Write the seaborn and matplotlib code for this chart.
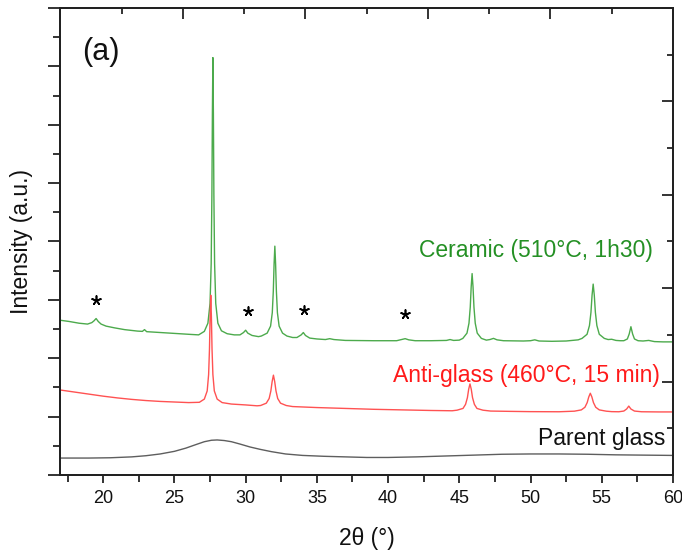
import matplotlib
matplotlib.use("Agg")
import matplotlib.pyplot as plt
import pandas as pd
import seaborn as sns
from matplotlib.ticker import MultipleLocator

sns.set_theme(style="ticks")
plt.rcParams["font.family"] = ["Liberation Sans", "DejaVu Sans"]

# ---- XRD patterns (2θ in degrees, stacked intensity in arbitrary units) ----
ceramic_2theta = [17.0, 17.6, 18.3, 18.9, 19.2, 19.35, 19.5, 19.65, 19.85, 20.2, 20.8, 21.5,
                  22.4, 22.75, 22.9, 23.05, 24.0, 25.0, 26.0, 26.7,
                  27.1, 27.35, 27.5, 27.58, 27.63, 27.665, 27.7, 27.735, 27.77, 27.82, 27.9,
                  28.05, 28.3, 28.7, 29.2, 29.6, 29.85, 30.0, 30.15, 30.45, 30.9,
                  31.1, 31.51, 31.75, 31.87, 31.942, 31.996, 32.05, 32.104, 32.158, 32.23,
                  32.35, 32.59, 32.9, 33.3, 33.6, 33.9, 34.05, 34.2, 34.5, 35.0, 35.6, 35.9,
                  36.2, 37.0, 39.0, 40.6, 40.95, 41.2, 41.45, 41.9, 43.0, 44.1, 44.35, 44.6,
                  45.0, 45.25, 45.54, 45.68, 45.77, 45.835, 45.9, 45.965, 46.03, 46.12,
                  46.26, 46.55, 46.9, 47.15, 47.4, 47.65, 48.1, 49.5, 50.0, 50.3, 50.6,
                  51.5, 52.5, 52.9, 53.1, 53.35, 53.62, 53.97, 54.14, 54.244, 54.322, 54.4,
                  54.478, 54.556, 54.66, 54.83, 55.18, 55.45, 55.7, 56.0, 56.3, 56.55, 56.8,
                  56.93, 57.05, 57.17, 57.3, 57.55, 57.9, 58.3, 58.7, 59.3, 60.0]
ceramic_int = [2.65, 2.63, 2.60, 2.585, 2.61, 2.64, 2.68, 2.63, 2.585, 2.55, 2.52, 2.49,
               2.465, 2.46, 2.49, 2.455, 2.44, 2.425, 2.41, 2.40,
               2.46, 2.60, 2.94, 3.62, 4.79, 6.20, 7.15, 6.20, 4.79, 3.62, 2.94,
               2.60, 2.47, 2.42, 2.40, 2.40, 2.44, 2.48, 2.43, 2.39, 2.37,
               2.38, 2.43, 2.55, 2.78, 3.15, 3.61, 3.92, 3.61, 3.15, 2.78,
               2.55, 2.43, 2.38, 2.355, 2.355, 2.40, 2.44, 2.39, 2.345, 2.33, 2.32, 2.335,
               2.32, 2.305, 2.30, 2.30, 2.32, 2.335, 2.315, 2.30, 2.30, 2.305, 2.32, 2.305,
               2.31, 2.34, 2.43, 2.60, 2.875, 3.22, 3.45, 3.22, 2.875, 2.60,
               2.43, 2.34, 2.31, 2.32, 2.34, 2.315, 2.30, 2.295, 2.30, 2.315, 2.295,
               2.29, 2.295, 2.305, 2.31, 2.315, 2.34, 2.41, 2.56, 2.785, 3.08, 3.27,
               3.08, 2.785, 2.56, 2.41, 2.34, 2.32, 2.325, 2.305, 2.30, 2.30, 2.33,
               2.415, 2.54, 2.415, 2.33, 2.30, 2.295, 2.305, 2.285, 2.28, 2.28]

antiglass_2theta = [17.0, 18.0, 19.0, 20.0, 21.0, 22.0, 23.0, 24.0, 25.0, 26.0, 26.75,
                    27.1, 27.3, 27.4, 27.46, 27.505, 27.55, 27.595, 27.64, 27.7, 27.8,
                    28.0, 28.35, 29.0, 30.0, 30.8, 31.05, 31.45, 31.65, 31.77, 31.86,
                    31.95, 32.04, 32.13, 32.25, 32.45, 32.85, 33.3, 34.0, 35.0, 37.0,
                    39.0, 41.0, 43.0, 44.5, 44.84, 45.26, 45.44, 45.57, 45.66, 45.75,
                    45.84, 45.93, 46.06, 46.24, 46.66, 47.2, 48.5, 50.0, 52.0, 53.08,
                    53.57, 53.82, 53.98, 54.09, 54.2, 54.31, 54.42, 54.58, 54.83, 55.32,
                    55.7, 56.2, 56.55, 56.75, 56.9, 57.05, 57.3, 57.8, 59.0, 60.0]
antiglass_int = [1.455, 1.42, 1.385, 1.35, 1.32, 1.295, 1.275, 1.26, 1.25, 1.24, 1.245,
                 1.30, 1.44, 1.72, 2.155, 2.71, 3.08, 2.71, 2.155, 1.72, 1.44,
                 1.30, 1.24, 1.215, 1.20, 1.185, 1.19, 1.23, 1.31, 1.44, 1.60,
                 1.71, 1.60, 1.44, 1.31, 1.23, 1.19, 1.172, 1.165, 1.155, 1.14,
                 1.125, 1.115, 1.105, 1.10, 1.11, 1.14, 1.21, 1.325, 1.47, 1.56,
                 1.47, 1.325, 1.21, 1.14, 1.11, 1.095, 1.09, 1.085, 1.083, 1.093,
                 1.115, 1.16, 1.24, 1.336, 1.40, 1.336, 1.24, 1.16, 1.115, 1.093,
                 1.085, 1.083, 1.095, 1.13, 1.18, 1.13, 1.095, 1.083, 1.08, 1.08]

parent_2theta = [17.0, 19.0, 20.5, 22.0, 23.0, 24.0, 25.0, 25.8, 26.5, 27.1, 27.6, 28.0,
                 28.5, 29.0, 29.6, 30.3, 31.0, 31.8, 32.8, 34.0, 35.5, 37.0, 38.5, 40.0,
                 42.0, 44.0, 46.0, 48.0, 50.0, 52.0, 54.0, 56.0, 58.0, 60.0]
parent_int = [0.29, 0.29, 0.295, 0.31, 0.33, 0.36, 0.405, 0.46, 0.52, 0.57, 0.595, 0.60,
              0.59, 0.57, 0.53, 0.48, 0.44, 0.40, 0.36, 0.335, 0.32, 0.31, 0.30, 0.30,
              0.31, 0.325, 0.34, 0.355, 0.36, 0.36, 0.355, 0.345, 0.34, 0.335]

# secondary-phase reflections marked with an asterisk
star_2theta = [19.5, 30.13, 34.1, 41.2]
star_int = [3.00, 2.81, 2.83, 2.75]

series_labels = ["Ceramic (510°C, 1h30)", "Anti-glass (460°C, 15 min)", "Parent glass"]
label_pos_x = [58.62, 59.1, 59.47]
label_pos_y = [3.73, 1.60, 0.51]

line_colors = ["#4caa4c", "#ff5252", "#5e5e5e"]
text_colors = ["#249024", "#ff1a1a", "#111111"]

# ---- figure ----
fig = plt.figure(figsize=(6.82, 5.5), dpi=100)
ax = fig.add_axes([0.0887, 0.1364, 0.898, 0.8491])

patterns = [(ceramic_2theta, ceramic_int), (antiglass_2theta, antiglass_int),
            (parent_2theta, parent_int)]
for (tt, inten), col in zip(patterns, line_colors):
    df = pd.DataFrame({"two_theta": tt, "intensity": inten})
    sns.lineplot(data=df, x="two_theta", y="intensity", ax=ax, color=col,
                 linewidth=1.0, legend=False, estimator=None)

ax.scatter(star_2theta, star_int, marker=(5, 2, 0), s=42, color="black",
           linewidths=1.2, zorder=5)

for txt, tx, ty, c in zip(series_labels, label_pos_x, label_pos_y, text_colors):
    ax.text(tx, ty, txt, color=c, fontsize=16.5, ha="right", va="baseline")

ax.text(18.49, 7.11, "(a)", fontsize=22, ha="left", va="baseline", color="#111111")

ax.set_xlim(17, 60)
ax.set_ylim(0, 8)
ax.set_xlabel("2θ (°)", fontsize=16.5, labelpad=14, color="#111111")
ax.set_ylabel("Intensity (a.u.)", fontsize=16.5, labelpad=11, color="#111111")

ax.xaxis.set_major_locator(MultipleLocator(5))
ax.xaxis.set_minor_locator(MultipleLocator(2.5))
ax.yaxis.set_major_locator(MultipleLocator(1))
ax.yaxis.set_minor_locator(MultipleLocator(0.5))
ax.tick_params(axis="x", which="major", direction="out", length=6, width=1.2,
               labelsize=13, colors="#111111", pad=5)
ax.tick_params(axis="x", which="minor", direction="out", length=5, width=1.2,
               colors="#111111")
ax.tick_params(axis="y", which="major", direction="out", length=9, width=1.2,
               labelleft=False, colors="#111111")
ax.tick_params(axis="y", which="minor", direction="out", length=5, width=1.2,
               colors="#111111")

# top and right frames carry their own unlabeled tick scales
axt = ax.twiny()
axt.set_xlim(0, 5)
axt.xaxis.set_major_locator(MultipleLocator(1))
axt.xaxis.set_minor_locator(MultipleLocator(0.5))
axt.tick_params(axis="x", which="major", direction="in", length=8, width=1.2,
                labeltop=False, colors="#111111")
axt.tick_params(axis="x", which="minor", direction="in", length=4, width=1.2,
                colors="#111111")

axr = ax.twinx()
axr.set_ylim(0, 5)
axr.yaxis.set_major_locator(MultipleLocator(1))
axr.yaxis.set_minor_locator(MultipleLocator(0.5))
axr.tick_params(axis="y", which="major", direction="in", length=8, width=1.2,
                labelright=False, colors="#111111")
axr.tick_params(axis="y", which="minor", direction="in", length=4, width=1.2,
                colors="#111111")

for a in (ax, axt, axr):
    for sp in a.spines.values():
        sp.set_visible(True)
        sp.set_linewidth(1.4)
        sp.set_color("#222222")

fig.savefig("out.png", dpi=100)
